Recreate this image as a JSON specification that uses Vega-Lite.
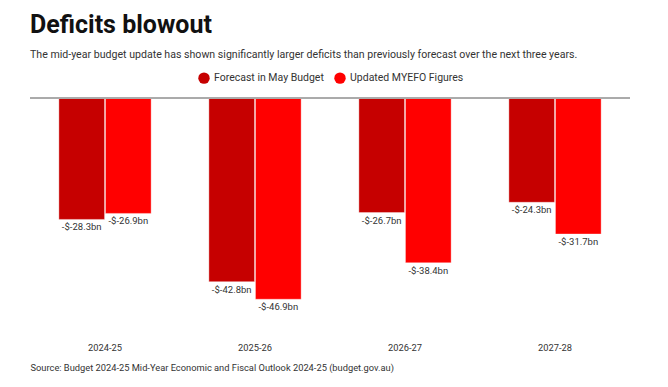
{
  "$schema": "https://vega.github.io/schema/vega-lite/v6.json",
  "width": 600,
  "height": 236,
  "autosize": "none",
  "padding": {"left": 30, "top": 98, "right": 38, "bottom": 53},
  "background": "white",
  "config": {"view": {"stroke": null}, "font": "Roboto"},
  "title": {
    "text": "Deficits blowout",
    "subtitle": "The mid-year budget update has shown significantly larger deficits than previously forecast over the next three years.",
    "anchor": "start",
    "frame": "group",
    "font": "Roboto",
    "fontSize": 25,
    "fontWeight": "bold",
    "color": "#111111",
    "subtitleFont": "Roboto",
    "subtitleFontSize": 10.6,
    "subtitleColor": "#333333",
    "subtitlePadding": 12,
    "offset": 11
  },
  "data": {
    "values": [
      {"year": "2024-25", "series": "Forecast in May Budget", "value": -28.3, "label": "-$-28.3bn"},
      {"year": "2024-25", "series": "Updated MYEFO Figures", "value": -26.9, "label": "-$-26.9bn"},
      {"year": "2025-26", "series": "Forecast in May Budget", "value": -42.8, "label": "-$-42.8bn"},
      {"year": "2025-26", "series": "Updated MYEFO Figures", "value": -46.9, "label": "-$-46.9bn"},
      {"year": "2026-27", "series": "Forecast in May Budget", "value": -26.7, "label": "-$-26.7bn"},
      {"year": "2026-27", "series": "Updated MYEFO Figures", "value": -38.4, "label": "-$-38.4bn"},
      {"year": "2027-28", "series": "Forecast in May Budget", "value": -24.3, "label": "-$-24.3bn"},
      {"year": "2027-28", "series": "Updated MYEFO Figures", "value": -31.7, "label": "-$-31.7bn"}
    ]
  },
  "encoding": {
    "x": {
      "field": "year",
      "type": "nominal",
      "scale": {"paddingInner": 0.385, "paddingOuter": 0.1925},
      "axis": {
        "domain": false,
        "ticks": false,
        "labelAngle": 0,
        "labelFont": "Roboto",
        "labelFontSize": 9.3,
        "labelColor": "#333333",
        "labelPadding": 9,
        "title": "Source: Budget 2024-25 Mid-Year Economic and Fiscal Outlook 2024-25 (budget.gov.au)",
        "titleAnchor": "start",
        "titleAlign": "left",
        "titleFont": "Roboto",
        "titleFontSize": 9.3,
        "titleFontWeight": "normal",
        "titleColor": "#333333",
        "titlePadding": 11
      }
    },
    "xOffset": {
      "field": "series",
      "type": "nominal",
      "scale": {"paddingInner": 0.02, "domain": ["Forecast in May Budget", "Updated MYEFO Figures"]}
    },
    "y": {
      "field": "value",
      "type": "quantitative",
      "scale": {"domain": [-55, 0], "nice": false},
      "axis": null
    }
  },
  "layer": [
    {
      "mark": {"type": "bar", "stroke": "white", "strokeWidth": 0.6, "strokeOpacity": 0.6},
      "encoding": {
        "color": {
          "field": "series",
          "type": "nominal",
          "scale": {"domain": ["Forecast in May Budget", "Updated MYEFO Figures"], "range": ["#C60000", "#FF0000"]},
          "legend": {
            "orient": "none",
            "legendX": 168,
            "legendY": -26,
            "direction": "horizontal",
            "title": null,
            "symbolType": "circle",
            "symbolSize": 130,
            "symbolStrokeWidth": 0,
            "labelFont": "Roboto",
            "labelFontSize": 10.5,
            "labelColor": "#333333",
            "columnPadding": 10
          }
        }
      }
    },
    {
      "mark": {"type": "text", "baseline": "top", "dy": 3, "fontSize": 9.5, "font": "Roboto", "color": "#333333"},
      "encoding": {"text": {"field": "label"}}
    },
    {
      "mark": {"type": "rule", "color": "#aaaaaa", "strokeWidth": 1},
      "encoding": {"y": {"datum": 0}, "x": null, "xOffset": null}
    }
  ]
}
